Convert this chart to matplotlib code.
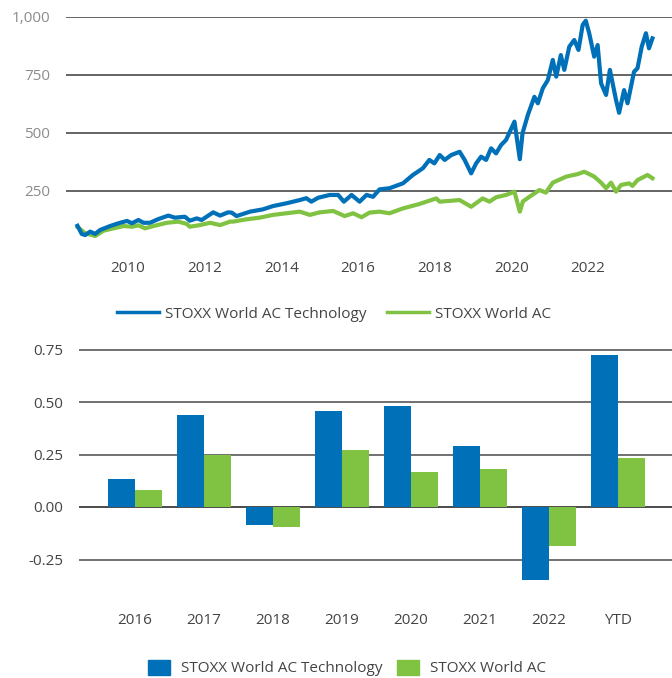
import matplotlib.pyplot as plt
from matplotlib.patches import Patch
from matplotlib.lines import Line2D

plt.rcParams['font.family'] = ['Open Sans', 'DejaVu Sans']

BLUE = '#0070b8'
GREEN = '#80c242'

# index levels (year as decimal)
tech_t = [2008.68, 2008.79, 2008.88, 2009.01, 2009.14, 2009.27, 2009.53, 2009.75, 2009.97,
          2010.10, 2010.27, 2010.40, 2010.57, 2010.79, 2011.05, 2011.22, 2011.48, 2011.61,
          2011.79, 2011.92, 2012.22, 2012.40, 2012.61, 2012.70, 2012.83, 2013.18, 2013.52,
          2013.78, 2014.13, 2014.48, 2014.65, 2014.78, 2014.96, 2015.26, 2015.48, 2015.63,
          2015.83, 2016.04, 2016.22, 2016.39, 2016.56, 2016.82, 2017.17, 2017.43, 2017.69,
          2017.86, 2017.99, 2018.13, 2018.26, 2018.43, 2018.65, 2018.78, 2018.95, 2019.08,
          2019.21, 2019.34, 2019.47, 2019.60, 2019.73, 2019.86, 2020.08, 2020.22, 2020.29,
          2020.43, 2020.60, 2020.69, 2020.82, 2020.95, 2021.08, 2021.17, 2021.29, 2021.38,
          2021.51, 2021.64, 2021.75, 2021.86, 2021.94, 2022.03, 2022.16, 2022.25, 2022.34,
          2022.47, 2022.57, 2022.73, 2022.81, 2022.94, 2023.03, 2023.20, 2023.29, 2023.40,
          2023.51, 2023.59, 2023.68]
tech_v = [100, 65, 60, 75, 65, 82, 99, 111, 121,
          111, 125, 113, 113, 129, 144, 135, 139, 122,
          132, 125, 158, 144, 158, 157, 142, 161, 171,
          185, 197, 211, 219, 204, 221, 233, 233, 204,
          233, 204, 233, 225, 257, 262, 283, 319, 348,
          384, 369, 405, 384, 405, 419, 384, 326, 369,
          398, 384, 434, 412, 448, 470, 549, 387, 499,
          578, 656, 628, 693, 728, 815, 743, 836, 772,
          872, 901, 858, 966, 984, 930, 829, 879, 714,
          664, 772, 642, 587, 685, 628, 764, 779, 872,
          930, 865, 908]

world_t = [2008.68, 2008.88, 2009.14, 2009.36, 2009.62, 2009.88, 2010.10, 2010.27, 2010.44,
           2010.66, 2011.01, 2011.31, 2011.53, 2011.61, 2011.87, 2012.14, 2012.40, 2012.66,
           2012.74, 2013.09, 2013.43, 2013.78, 2014.13, 2014.48, 2014.74, 2015.00, 2015.35,
           2015.65, 2015.87, 2016.09, 2016.30, 2016.56, 2016.82, 2017.17, 2017.60, 2018.04,
           2018.13, 2018.65, 2018.95, 2019.25, 2019.43, 2019.60, 2019.86, 2020.08, 2020.22,
           2020.30, 2020.47, 2020.73, 2020.90, 2021.08, 2021.43, 2021.73, 2021.90, 2022.03,
           2022.16, 2022.34, 2022.47, 2022.60, 2022.73, 2022.86, 2023.07, 2023.16, 2023.29,
           2023.55, 2023.68]
world_v = [95, 68, 56, 79, 89, 99, 96, 102, 89,
           99, 113, 118, 108, 96, 103, 113, 103, 118,
           118, 128, 135, 147, 154, 161, 147, 158, 164,
           142, 154, 137, 157, 161, 154, 175, 194, 218,
           204, 211, 182, 218, 204, 223, 233, 247, 161,
           205, 225, 254, 243, 286, 312, 323, 333, 323,
           312, 286, 262, 286, 247, 276, 283, 272, 297,
           319, 305]

# annual returns
years = ['2016', '2017', '2018', '2019', '2020', '2021', '2022', 'YTD']
tech_ret = [0.133, 0.438, -0.084, 0.457, 0.481, 0.29, -0.346, 0.724]
world_ret = [0.081, 0.246, -0.094, 0.271, 0.167, 0.181, -0.186, 0.233]

fig = plt.figure(figsize=(6.72, 6.78), dpi=100)

# --- top: index levels ---
ax1 = fig.add_axes([66 / 672, 1 - 249 / 678, 1 - 66 / 672, 232 / 678])
ax1.plot(world_t, world_v, color=GREEN, lw=3.0, solid_joinstyle='round')
ax1.plot(tech_t, tech_v, color=BLUE, lw=3.0, solid_joinstyle='round')
ax1.set_xlim(2008.38, 2024.19)
ax1.set_ylim(0, 1000)
ax1.set_yticks([250, 500, 750, 1000])
ax1.set_yticklabels(['250', '500', '750', '1,000'])
ax1.set_xticks(range(2010, 2023, 2))
ax1.grid(axis='y', color='#3a3a3a', lw=1.1)
ax1.set_axisbelow(True)
for s in ax1.spines.values():
    s.set_visible(False)
ax1.tick_params(axis='both', length=0, labelsize=11)
ax1.tick_params(axis='y', pad=11.5, labelcolor='#8c8c8c')
ax1.tick_params(axis='x', pad=9, labelcolor='#444444')

fig.legend(handles=[Line2D([], [], color=BLUE, lw=2.5), Line2D([], [], color=GREEN, lw=2.5)],
           labels=['STOXX World AC Technology', 'STOXX World AC'],
           loc='center', bbox_to_anchor=(334 / 672, 1 - 314 / 678), ncol=2, frameon=False,
           fontsize=11, labelcolor='#444444', handlelength=2.75, handletextpad=0.4,
           columnspacing=1.3)

# --- bottom: yearly returns ---
ax2 = fig.add_axes([79 / 672, 1 - 601.5 / 678, 1 - 79 / 672, 258.3 / 678])
x = range(len(years))
w = 0.39
ax2.bar([i - w / 2 for i in x], tech_ret, w, color=BLUE, zorder=3)
ax2.bar([i + w / 2 for i in x], world_ret, w, color=GREEN, zorder=3)
ax2.set_xlim(-0.81, 7.78)
ax2.set_ylim(-0.45, 0.78)
ax2.set_yticks([-0.25, 0, 0.25, 0.5, 0.75])
ax2.set_yticklabels(['-0.25', '0.00', '0.25', '0.50', '0.75'])
ax2.set_xticks(list(x))
ax2.set_xticklabels(years)
for yv in [-0.25, 0.25, 0.5, 0.75]:
    ax2.axhline(yv, color='#4a4a4a', lw=1.1, zorder=1)
ax2.axhline(0, color='#1a1a1a', lw=1.1, zorder=2)
for s in ax2.spines.values():
    s.set_visible(False)
ax2.tick_params(axis='both', length=0, labelsize=11, labelcolor='#444444')
ax2.tick_params(axis='y', pad=11.5)
ax2.tick_params(axis='x', pad=8)

fig.legend(handles=[Patch(color=BLUE), Patch(color=GREEN)],
           labels=['STOXX World AC Technology', 'STOXX World AC'],
           loc='center', bbox_to_anchor=(347 / 672, 1 - 668 / 678), ncol=2, frameon=False,
           fontsize=11, labelcolor='#444444', handlelength=1.44, handleheight=1.2,
           handletextpad=0.72, columnspacing=1.0)

fig.savefig('out.png', dpi=100)
